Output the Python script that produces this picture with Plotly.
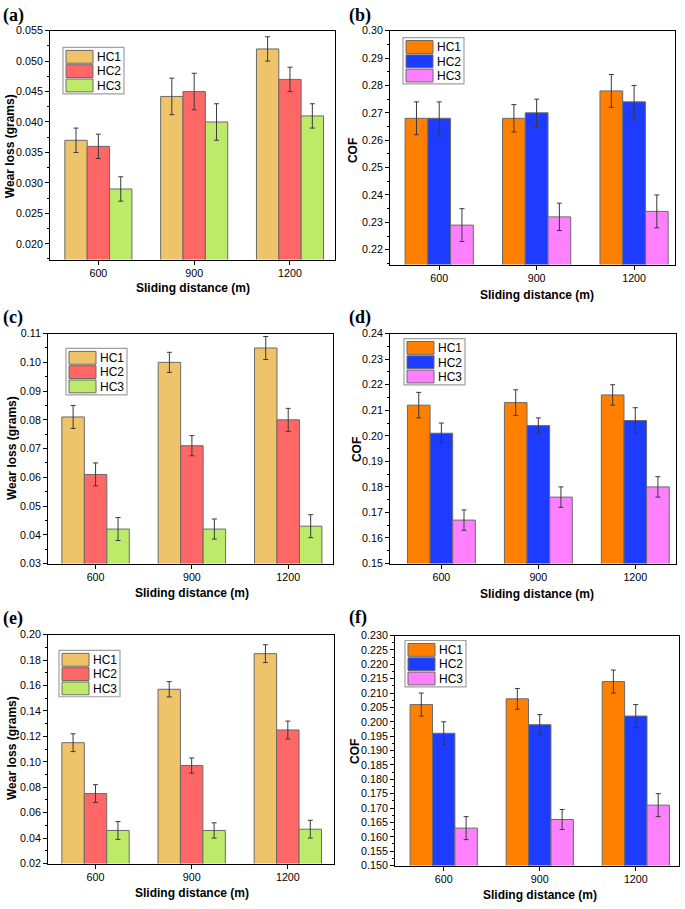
import plotly.graph_objects as go

W, H = 685, 909

distances = ["600", "900", "1200"]
series_names = ["HC1", "HC2", "HC3"]

# ---- panel (a): wear loss ----
a_hc1 = [0.037, 0.0442, 0.052]
a_hc2 = [0.036, 0.045, 0.047]
a_hc3 = [0.029, 0.040, 0.041]
a_hc1_err = [0.002, 0.003, 0.002]
a_hc2_err = [0.002, 0.003, 0.002]
a_hc3_err = [0.002, 0.003, 0.002]

# ---- panel (b): COF ----
b_hc1 = [0.268, 0.268, 0.278]
b_hc2 = [0.268, 0.270, 0.274]
b_hc3 = [0.229, 0.232, 0.234]
b_hc1_err = [0.006, 0.005, 0.006]
b_hc2_err = [0.006, 0.005, 0.006]
b_hc3_err = [0.006, 0.005, 0.006]

# ---- panel (c): wear loss ----
c_hc1 = [0.081, 0.100, 0.105]
c_hc2 = [0.061, 0.071, 0.080]
c_hc3 = [0.042, 0.042, 0.043]
c_hc1_err = [0.004, 0.0035, 0.004]
c_hc2_err = [0.004, 0.0035, 0.004]
c_hc3_err = [0.004, 0.0035, 0.004]

# ---- panel (d): COF ----
d_hc1 = [0.212, 0.213, 0.216]
d_hc2 = [0.201, 0.204, 0.206]
d_hc3 = [0.167, 0.176, 0.180]
d_hc1_err = [0.005, 0.005, 0.004]
d_hc2_err = [0.004, 0.003, 0.005]
d_hc3_err = [0.004, 0.004, 0.004]

# ---- panel (e): wear loss ----
e_hc1 = [0.115, 0.157, 0.185]
e_hc2 = [0.075, 0.097, 0.125]
e_hc3 = [0.046, 0.046, 0.047]
e_hc1_err = [0.007, 0.006, 0.007]
e_hc2_err = [0.007, 0.006, 0.007]
e_hc3_err = [0.007, 0.006, 0.007]

# ---- panel (f): COF ----
f_hc1 = [0.206, 0.208, 0.214]
f_hc2 = [0.196, 0.199, 0.202]
f_hc3 = [0.163, 0.166, 0.171]
f_hc1_err = [0.004, 0.0036, 0.004]
f_hc2_err = [0.004, 0.0035, 0.004]
f_hc3_err = [0.004, 0.0035, 0.004]

wear_colors = ["#EEC36A", "#FF6666", "#BEEA6A"]
cof_colors = ["#FF8000", "#1E3CFF", "#FF80FF"]

WEAR_TITLE = "Wear loss (grams)"
COF_TITLE = "COF"
X_TITLE = "Sliding distance (m)"

panels = [
    dict(label="(a)", vals=[a_hc1, a_hc2, a_hc3], errs=[a_hc1_err, a_hc2_err, a_hc3_err],
         colors=wear_colors, ytitle=WEAR_TITLE,
         box=(50, 335, 25, 257), yrange=[0.0174, 0.055], dtick=0.005, fmt=".3f",
         xrange=[-0.505, 2.47], lab=(1, 10), xt=(193, 286), yt=(10, 142), leg=(63, 42)),
    dict(label="(b)", vals=[b_hc1, b_hc2, b_hc3], errs=[b_hc1_err, b_hc2_err, b_hc3_err],
         colors=cof_colors, ytitle=COF_TITLE,
         box=(390, 675, 25, 262), yrange=[0.2146, 0.30], dtick=0.01, fmt=".2f",
         xrange=[-0.505, 2.42], lab=(347, 10), xt=(537, 293), yt=(353, 146), leg=(403, 32)),
    dict(label="(c)", vals=[c_hc1, c_hc2, c_hc3], errs=[c_hc1_err, c_hc2_err, c_hc3_err],
         colors=wear_colors, ytitle=WEAR_TITLE,
         box=(48, 333, 332, 565), yrange=[0.03, 0.11], dtick=0.01, fmt=".2f",
         xrange=[-0.494, 2.465], lab=(1, 316), xt=(192, 595), yt=(12, 448), leg=(66, 347)),
    dict(label="(d)", vals=[d_hc1, d_hc2, d_hc3], errs=[d_hc1_err, d_hc2_err, d_hc3_err],
         colors=cof_colors, ytitle=COF_TITLE,
         box=(390, 676, 332, 565), yrange=[0.15, 0.24], dtick=0.01, fmt=".2f",
         xrange=[-0.53, 2.42], lab=(347, 316), xt=(537, 596), yt=(357, 450), leg=(404, 337)),
    dict(label="(e)", vals=[e_hc1, e_hc2, e_hc3], errs=[e_hc1_err, e_hc2_err, e_hc3_err],
         colors=wear_colors, ytitle=WEAR_TITLE,
         box=(48, 334, 637, 869), yrange=[0.02, 0.20], dtick=0.02, fmt=".2f",
         xrange=[-0.494, 2.48], lab=(1, 621), xt=(192, 899), yt=(12, 752), leg=(59, 653)),
    dict(label="(f)", vals=[f_hc1, f_hc2, f_hc3], errs=[f_hc1_err, f_hc2_err, f_hc3_err],
         colors=cof_colors, ytitle=COF_TITLE,
         box=(395, 679, 638, 871), yrange=[0.150, 0.230], dtick=0.005, fmt=".3f",
         xrange=[-0.507, 2.45], lab=(347, 620), xt=(540, 901), yt=(355, 756), leg=(405, 643)),
]


def fx(px):
    return px / W


def fy(py):
    return 1 - py / H


TICK_FONT = dict(family="Liberation Sans, Arial, sans-serif", size=10.7, color="black")
TITLE_FONT = dict(family="Liberation Sans, Arial, sans-serif", size=12, color="black")

fig = go.Figure()
shapes = []
annotations = []

for i, p in enumerate(panels, start=1):
    xa = "x" if i == 1 else f"x{i}"
    ya = "y" if i == 1 else f"y{i}"
    for name, v, e, col in zip(series_names, p["vals"], p["errs"], p["colors"]):
        fig.add_trace(go.Bar(
            x=distances, y=v, name=name, xaxis=xa, yaxis=ya, showlegend=False,
            marker=dict(color=col, line=dict(color="#6a6a6a", width=1)),
            error_y=dict(type="data", array=e, visible=True, color="#3a3a3a",
                         thickness=1, width=2.5),
        ))
    l, r, t, b = p["box"]
    xkey = "xaxis" if i == 1 else f"xaxis{i}"
    ykey = "yaxis" if i == 1 else f"yaxis{i}"
    fig.layout[xkey] = dict(
        domain=[fx(l), fx(r)], anchor=ya, type="category", range=p["xrange"],
        showline=True, linecolor="black", linewidth=1, mirror=True,
        ticks="outside", ticklen=4, tickcolor="black", tickfont=TICK_FONT,
        showgrid=False, zeroline=False, fixedrange=True,
    )
    fig.layout[ykey] = dict(
        domain=[fy(b), fy(t)], anchor=xa, range=p["yrange"], dtick=p["dtick"], tick0=0,
        tickformat=p["fmt"], showline=True, linecolor="black", linewidth=1, mirror=True,
        ticks="outside", ticklen=4, tickcolor="black", tickfont=TICK_FONT,
        minor=dict(ticks="outside", ticklen=2, dtick=p["dtick"] / 2, tickcolor="black"),
        showgrid=False, zeroline=False, fixedrange=True,
    )
    # panel label
    annotations.append(dict(text=f"<b>{p['label']}</b>", x=fx(p["lab"][0]), y=fy(p["lab"][1]),
                            xref="paper", yref="paper", xanchor="left", yanchor="middle",
                            showarrow=False,
                            font=dict(family="Liberation Serif, Times New Roman, serif",
                                      size=18, color="black")))
    # axis titles
    annotations.append(dict(text=f"<b>{X_TITLE}</b>", x=fx(p["xt"][0]), y=fy(p["xt"][1]),
                            xref="paper", yref="paper", xanchor="center", yanchor="middle",
                            showarrow=False, font=TITLE_FONT))
    annotations.append(dict(text=f"<b>{p['ytitle']}</b>", x=fx(p["yt"][0]), y=fy(p["yt"][1]),
                            xref="paper", yref="paper", xanchor="center", yanchor="middle",
                            textangle=-90, showarrow=False, font=TITLE_FONT))
    # legend box (drawn like the original's large swatches)
    lx, ly = p["leg"]
    shapes.append(dict(type="rect", xref="paper", yref="paper",
                       x0=fx(lx), x1=fx(lx + 61), y0=fy(ly + 47), y1=fy(ly),
                       line=dict(color="#a0a0a0", width=1.2), fillcolor="white", layer="above"))
    for k, (name, col) in enumerate(zip(series_names, p["colors"])):
        sy = ly + 3 + k * 14.5
        shapes.append(dict(type="rect", xref="paper", yref="paper",
                           x0=fx(lx + 3), x1=fx(lx + 30), y0=fy(sy + 13), y1=fy(sy),
                           line=dict(color="#6a6a6a", width=1), fillcolor=col, layer="above"))
        annotations.append(dict(text=name, x=fx(lx + 32), y=fy(sy + 6.8),
                                xref="paper", yref="paper", xanchor="left", yanchor="middle",
                                showarrow=False,
                                font=dict(family="Liberation Sans, Arial, sans-serif",
                                          size=12, color="black")))

fig.update_layout(
    width=W, height=H, margin=dict(l=0, r=0, t=0, b=0),
    paper_bgcolor="white", plot_bgcolor="white",
    barmode="group", bargap=0.30, bargroupgap=0,
    shapes=shapes, annotations=annotations, showlegend=False,
)

fig.write_html("out.html",
               config={"displayModeBar": False, "staticPlot": True},
               post_script="document.body.style.margin='0px';document.body.style.overflow='hidden';")
